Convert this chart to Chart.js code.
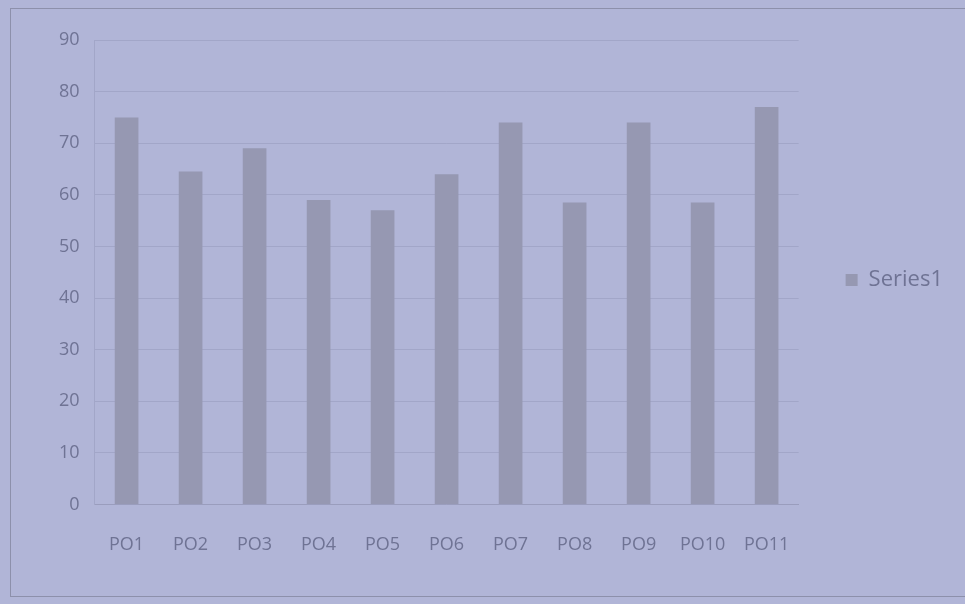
<!DOCTYPE html>
<html>
<head>
<meta charset="UTF-8" />
<title>Series1</title>
<script src="https://cdn.jsdelivr.net/npm/chart.js"></script>
<style>
  html, body { margin: 0; padding: 0; background: #b1b5d7; }
  #wrap { width: 965px; height: 604px; }
</style>
</head>
<body>
<div id="wrap"><canvas id="grafica"></canvas></div>

<script>
const categorias = ['PO1', 'PO2', 'PO3', 'PO4', 'PO5', 'PO6', 'PO7', 'PO8', 'PO9', 'PO10', 'PO11'];
const serie1 = [75, 64.5, 69, 59, 57, 64, 74, 58.5, 74, 58.5, 77];
const nombreSerie = 'Series1';
const ejeY = { min: 0, max: 90, paso: 10 };

const colorTexto = '#6f7394';
const colorBarra = '#9698b2';

// fondo y marco del grafico
const marco = {
  id: 'marco',
  beforeDraw(chart) {
    const c = chart.ctx;
    c.save();
    c.fillStyle = '#b1b5d7';
    c.fillRect(0, 0, chart.width, chart.height);
    c.strokeStyle = '#8d90ab';
    c.lineWidth = 1;
    c.strokeRect(10.5, 8.5, 970, 588);
    c.restore();
  }
};

new Chart(document.getElementById('grafica'), {
  type: 'bar',
  data: {
    labels: categorias,
    datasets: [{
      label: nombreSerie,
      data: serie1,
      backgroundColor: colorBarra,
      barPercentage: 0.37,
      categoryPercentage: 1
    }]
  },
  options: {
    responsive: true,
    maintainAspectRatio: false,
    animation: false,
    layout: { padding: { top: 40, left: 44, bottom: 18, right: 12 } },
    plugins: {
      tooltip: { enabled: false },
      legend: {
        position: 'right',
        align: 'start',
        // titulo vacio solo para bajar la leyenda a media altura
        title: { display: true, text: '', font: { size: 10 }, padding: { top: 170, bottom: 0 } },
        labels: {
          color: colorTexto,
          font: { family: 'Open Sans', size: 22 },
          boxWidth: 12,
          boxHeight: 12,
          padding: 47
        }
      }
    },
    scales: {
      x: {
        grid: { display: false, drawTicks: false },
        border: { color: '#9a9dbd' },
        ticks: { color: colorTexto, font: { family: 'Open Sans', size: 18 }, padding: 30, maxRotation: 0, autoSkip: false }
      },
      y: {
        min: ejeY.min,
        max: ejeY.max,
        ticks: { stepSize: ejeY.paso, color: colorTexto, font: { family: 'Open Sans', size: 18 }, padding: 15 },
        grid: { color: '#a2a6c8', drawTicks: false },
        border: { color: '#a2a6c8' }
      }
    }
  },
  plugins: [marco]
});
</script>
</body>
</html>
